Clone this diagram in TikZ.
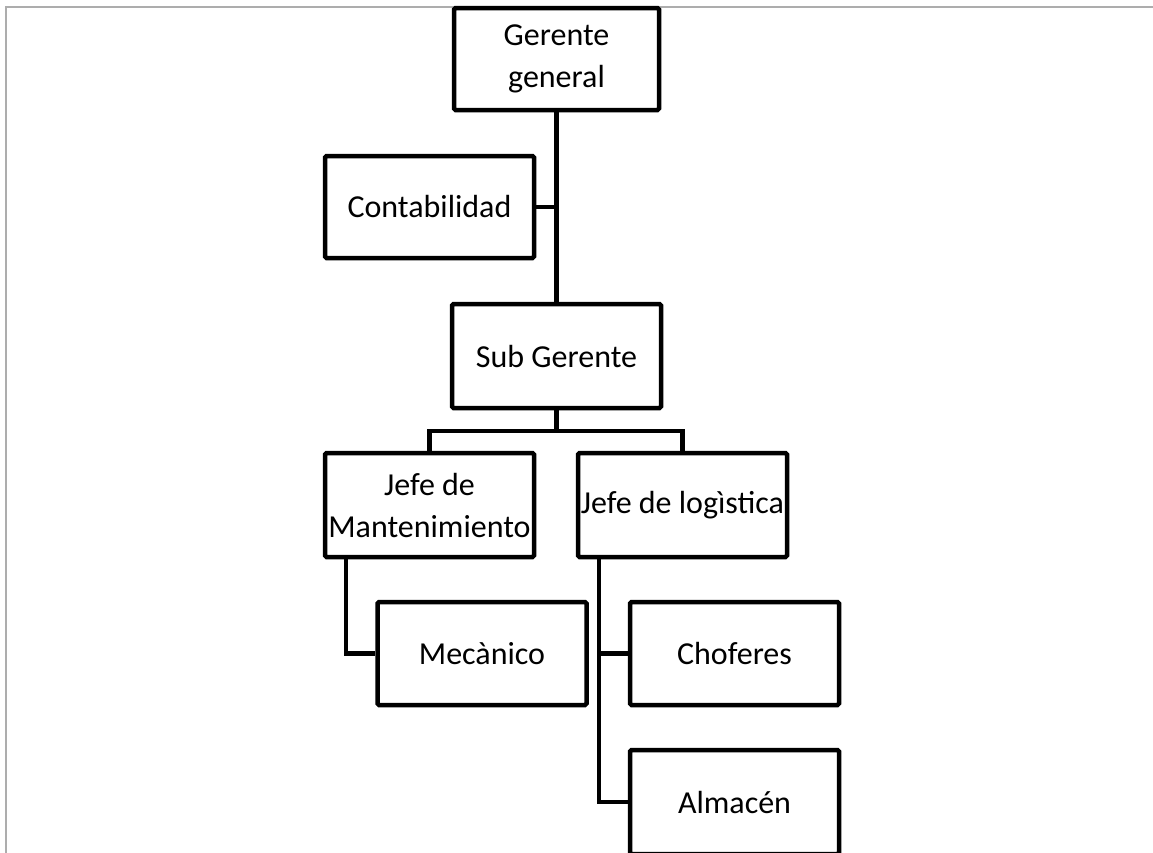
\documentclass[tikz,border=0pt]{standalone}
\usepackage{fontspec}
\setmainfont{Carlito}
\begin{document}
\begin{tikzpicture}[x=1pt,y=-1pt,
  box/.style={draw=black, fill=white, line width=4.5pt, minimum width=209pt, minimum height=103pt,
    inner sep=0pt, align=center, rounded corners=1.5pt, font=\fontsize{32}{42}\selectfont},
  conn/.style={draw=black, line width=4.5pt},
  frame/.style={draw=black!32, line width=2.5pt}]
\useasboundingbox (0,0) rectangle (1153,852);
\clip (0,0) rectangle (1153,852);
\fill[white] (0,0) rectangle (1153,852);
\coordinate (fbl) at (6,860);
\coordinate (ftl) at (6,7);
\coordinate (ftr) at (1160,7);
\draw[frame] (fbl) -- (ftl) -- (ftr);
\coordinate (bus) at (556.5,431);
\node[box, minimum width=205pt, minimum height=102pt] (gg) at (556.5,59) {Gerente\\general};
\node[box, minimum height=104pt] (sg) at (556.5,356) {Sub Gerente};
\node[box, minimum height=102pt] (cont) at (429.5,207) {Contabilidad};
\node[box, minimum height=104pt] (jm) at (429.5,505) {Jefe de\\Mantenimiento};
\node[box, minimum height=104pt] (jl) at (682.5,505) {Jefe de logìstica};
\node[box] (mec) at (482,653.5) {Mecànico};
\node[box] (cho) at (734.5,653.5) {Choferes};
\node[box, minimum height=104pt] (alm) at (734.5,802) {Almacén};
\draw[conn] (gg.south) -- (sg.north);
\draw[conn] (cont.east) -- (cont.east -| gg.south);
\draw[conn] (sg.south) -- (bus);
\draw[conn] (jm.north) |- (bus) -| (jl.north);
\draw[conn] ([xshift=-83.5pt]jm.south) |- (mec.west);
\draw[conn] ([xshift=-83.5pt]jl.south) |- (alm.west);
\draw[conn] (cho.west) -| ([xshift=-83.5pt]jl.south);
\end{tikzpicture}
\end{document}
